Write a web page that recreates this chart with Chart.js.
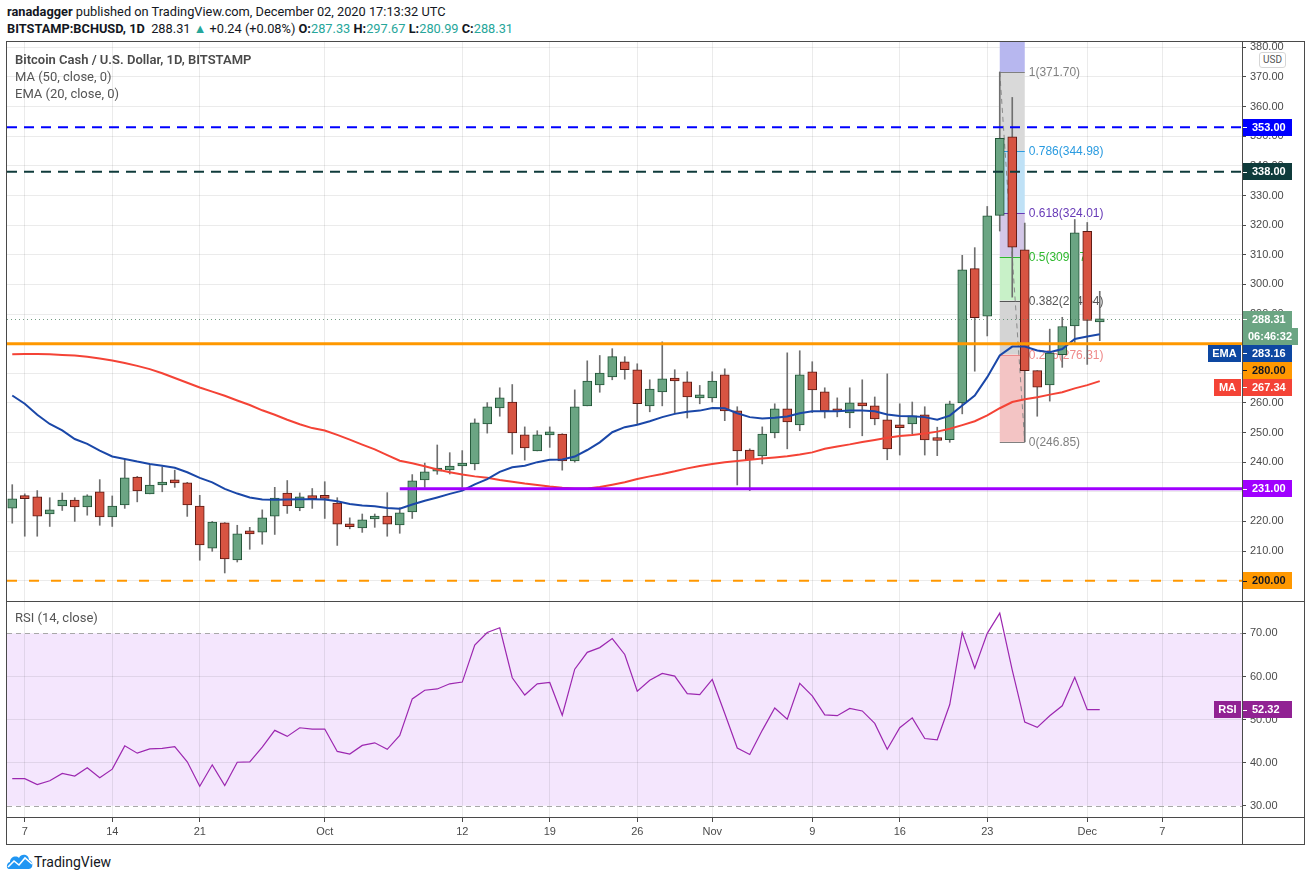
<!DOCTYPE html>
<html>
<head>
<meta charset="utf-8">
<title>BCHUSD 1D</title>
<script src="https://cdn.jsdelivr.net/npm/chart.js@4.4.1/dist/chart.umd.min.js"></script>
<style>
  body { margin: 0; background: #fff; width: 1311px; height: 881px; overflow: hidden; position: relative; font-family: Roboto, 'Liberation Sans', Arial, sans-serif; color: #131722; }
  .abs { position: absolute; white-space: nowrap; }
  .head { font-size: 12.8px; line-height: 16px; }
  .up { color: #26a69a; }
  .legend { font-size: 13px; line-height: 16px; color: #555; }
  .line { position: absolute; background: #4a4a4a; pointer-events: none; }
  #usd { left: 1259px; top: 52px; width: 25px; height: 14px; border: 1px solid #d6d6d6; border-radius: 3px; font-size: 10px; line-height: 14px; text-align: center; color: #555; background: #fff; }
</style>
</head>
<body>
<div class="abs head" style="left:7px;top:4px"><b>ranadagger</b> published on TradingView.com, December 02, 2020 17:13:32 UTC</div>
<div class="abs head" style="left:7px;top:21px"><b>BITSTAMP:BCHUSD, 1D</b>&nbsp; 288.31 <span class="up">&#9650;</span> +0.24 (+0.08%) <b>O:</b><span class="up">287.33</span> <b>H:</b><span class="up">297.67</span> <b>L:</b><span class="up">280.99</span> <b>C:</b><span class="up">288.31</span></div>

<div class="abs" style="left:0;top:41px"><canvas id="priceChart" width="1305" height="561"></canvas></div>
<div class="abs" style="left:0;top:602px"><canvas id="rsiChart" width="1305" height="243"></canvas></div>

<div class="abs legend" style="left:15px;top:52px;font-weight:600;color:#4a4a4a">Bitcoin Cash / U.S. Dollar, 1D, BITSTAMP</div>
<div class="abs legend" style="left:15px;top:69px">MA (50, close, 0)</div>
<div class="abs legend" style="left:15px;top:86px">EMA (20, close, 0)</div>
<div class="abs legend" style="left:15px;top:610px">RSI (14, close)</div>
<div id="usd" class="abs">USD</div>

<!-- pane frame -->
<div class="line" style="left:6px;top:41px;width:1299px;height:1px"></div>
<div class="line" style="left:6px;top:844px;width:1299px;height:1px"></div>
<div class="line" style="left:6px;top:41px;width:1px;height:804px"></div>
<div class="line" style="left:1304px;top:41px;width:1px;height:804px"></div>
<div class="line" style="left:6px;top:601px;width:1299px;height:1px"></div>
<div class="line" style="left:6px;top:817px;width:1299px;height:1px"></div>
<div class="line" style="left:1242px;top:41px;width:1px;height:804px"></div>

<svg class="abs" style="left:6px;top:852px" width="28" height="18" viewBox="0 0 28 18">
  <path d="M3 17 C0 17 0 11 4 10 C4 5 10 3 13 6 C15 1 23 2 23 8 C27 8 28 17 23 17 Z" fill="#2196f3"/>
  <polyline points="2,15 8,9 13,13 19,6 26,12" fill="none" stroke="#fff" stroke-width="1.6"/>
</svg>
<div class="abs" style="left:34px;top:853px;font-size:14px;line-height:18px;color:#131722">TradingView</div>

<script>
// daily candles from 2020-09-06 to 2020-12-02
const startDay = Date.UTC(2020, 8, 6);
const dayIndex = s => Math.round((Date.parse(s) - startDay) / 864e5);

const opens = [224.5,228.0,228.3,222.5,225.2,227.2,224.9,230.0,221.5,225.6,
  235.0,229.3,232.3,233.2,233.0,225.2,211.0,219.5,207.0,216.4,
  216.4,221.8,229.6,224.6,227.9,228.0,226.2,218.3,217.8,220.8,
  221.8,218.8,223.2,234.0,237.0,237.4,238.7,239.4,252.9,258.3,
  260.3,249.2,243.8,249.2,249.5,240.4,259.0,266.1,268.8,273.9,
  271.2,259.0,263.7,267.8,267.1,261.7,261.7,269.5,257.3,244.1,
  242.1,249.9,258.0,252.6,270.5,263.7,257.6,256.6,259.7,259.0,
  254.3,252.6,252.9,256.0,248.2,247.6,260.0,305.3,289.3,323.3,
  349.8,311.7,270.9,266.1,276.3,286.0,317.9,287.33];
const highs = [232.4,229.3,230.4,228.0,229.6,228.0,229.0,234.1,228.6,240.8,
  235.2,239.1,238.4,237.3,233.2,228.8,220.0,219.6,218.7,218.0,
  223.9,231.5,233.8,229.6,231.1,233.4,228.0,221.2,222.5,222.5,
  229.7,224.6,235.8,239.7,245.8,243.2,243.9,254.6,260.1,265.1,
  266.2,251.9,250.6,251.9,249.6,264.4,274.2,276.0,278.3,275.6,
  273.2,267.8,280.6,271.2,270.5,265.9,270.5,271.5,258.7,244.5,
  251.9,259.7,276.9,277.6,273.9,265.1,261.7,265.1,267.8,262.0,
  269.8,259.7,260.3,258.7,251.8,260.6,309.8,312.4,326.3,371.7,
  363.1,320.7,270.9,284.9,288.9,321.9,320.9,297.67];
const lows = [219.4,215.0,215.0,218.3,223.7,220.0,222.1,218.7,218.3,224.4,
  226.6,229.3,230.0,231.5,221.7,206.9,209.9,202.6,206.3,210.6,
  212.3,215.6,222.7,223.6,224.4,221.0,211.9,217.5,216.3,218.0,
  215.0,216.0,221.0,231.5,235.9,236.0,231.5,237.4,249.8,255.5,
  242.7,240.7,243.8,245.0,237.3,240.0,259.0,263.6,267.8,268.0,
  252.9,257.0,259.0,256.3,254.9,259.7,260.3,254.0,232.3,230.4,
  239.4,248.2,244.5,250.6,256.7,254.9,255.3,251.6,248.9,252.6,
  240.8,242.4,249.5,242.4,242.2,246.7,256.3,270.7,282.6,318.0,
  295.7,246.85,255.5,260.6,272.0,280.0,273.0,280.99];
const closes = [227.6,227.7,221.8,223.9,227.2,224.9,228.6,221.5,225.2,234.7,
  230.3,232.3,232.5,233.0,225.6,212.1,219.8,207.3,215.8,215.8,
  221.2,227.9,225.2,228.3,227.7,227.8,219.1,218.2,220.5,221.5,
  219.1,222.9,233.7,236.7,237.3,238.7,239.4,253.3,258.7,261.7,
  249.9,244.8,249.2,249.5,240.4,258.7,267.4,270.1,275.6,271.2,
  259.7,264.7,268.1,267.4,262.0,261.9,267.4,257.3,243.8,240.8,
  249.5,258.0,253.6,269.5,264.4,257.3,257.0,260.0,259.0,254.6,
  244.5,251.6,255.6,247.5,247.3,259.7,304.9,288.8,323.1,349.3,
  312.6,270.9,265.3,276.8,285.8,317.4,287.8,288.31];

const ma50 = [276.4,276.5,276.5,276.4,276.2,276.0,275.6,275.0,274.3,273.5,
  272.5,271.4,270.0,268.4,266.8,265.2,263.8,262.4,260.8,259.3,
  257.5,256.0,254.3,252.8,251.5,250.7,249.2,247.6,245.9,244.3,
  242.4,240.5,239.6,238.6,237.5,236.6,235.8,235.2,234.7,234.0,
  233.4,232.8,232.3,231.8,231.4,231.1,231.1,231.6,232.4,233.2,
  234.3,235.2,236.0,236.9,237.9,238.7,239.4,240.0,240.4,240.8,
  241.2,241.6,242.0,242.6,243.3,244.5,245.3,246.0,246.8,247.5,
  248.2,248.8,249.2,249.7,250.3,251.3,252.5,253.8,255.8,258.2,
  260.3,261.2,261.9,262.8,263.6,264.9,266.0,267.34];
const ema20 = [262.5,259.7,256.0,252.9,250.7,247.8,246.2,243.9,241.9,241.1,
  240.2,239.4,238.8,238.1,236.6,234.7,233.2,231.0,229.4,228.1,
  227.4,227.3,227.4,227.5,227.5,227.4,226.8,225.9,225.4,225.1,
  224.5,224.3,225.7,227.0,228.1,229.3,230.4,232.5,234.3,236.7,
  238.3,238.8,240.0,240.8,240.9,241.9,244.1,246.7,250.1,251.8,
  252.6,253.8,255.2,256.3,257.0,257.4,258.3,258.2,256.5,255.2,
  254.7,255.0,255.4,256.5,257.2,257.2,257.2,257.4,257.4,257.2,
  256.1,255.6,255.5,255.2,254.3,255.7,259.1,262.5,268.7,276.0,
  279.0,279.0,277.7,277.1,278.2,281.6,282.4,283.16];
const rsi14 = [36.3,36.3,34.9,35.8,37.5,36.9,38.8,36.5,38.5,43.9,
  42.2,43.2,43.3,43.7,40.2,34.5,39.5,34.7,40.1,40.2,
  43.6,47.5,46.1,48.1,47.8,47.8,42.6,42.0,44.0,44.6,
  43.1,46.3,54.8,56.8,57.1,58.3,58.7,67.3,70.2,71.3,
  59.7,55.7,58.3,58.6,51.0,61.7,65.6,66.7,68.8,65.1,
  56.6,59.1,60.7,60.1,56.0,55.8,59.3,51.4,43.4,41.9,
  47.5,52.7,50.1,58.4,55.5,51.1,50.9,52.6,52.0,49.1,
  43.1,48.1,50.4,45.6,45.3,53.5,70.2,61.9,70.0,74.7,
  61.5,49.4,48.2,50.9,53.2,59.8,52.3,52.32];

const tickDates = ['2020-09-07','2020-09-14','2020-09-21','2020-10-01','2020-10-12','2020-10-19',
  '2020-10-26','2020-11-01','2020-11-09','2020-11-16','2020-11-23','2020-12-01','2020-12-07'];
const tickLabels = ['7','14','21','Oct','12','19','26','Nov','9','16','23','Dec','7'];
const priceTicks = [200,210,220,230,240,250,260,270,280,290,300,310,320,330,340,350,360,370,380];
const rsiTicks = [30,40,50,60,70];
const rsiBand = [30, 70];

// horizontal levels drawn on the chart
const levelPrices = [353, 338, 280, 231, 200];
const levelFrom = [null, null, null, '2020-10-07', null];

// fibonacci retracement
const fibStart = '2020-11-24', fibEnd = '2020-11-26';
const fibRatios = ['1','0.786','0.618','0.5','0.382','0.236','0'];
const fibPrices = [371.70, 344.98, 324.01, 309.27, 294.54, 276.31, 246.85];
const countdown = '06:46:32';

// styles
const levelStyle = [
  { color: '#0000ff', width: 2, dash: [10, 7], text: '#fff' },
  { color: '#0f3b3b', width: 2, dash: [10, 7], text: '#fff' },
  { color: '#ff9800', width: 3, dash: [], text: '#131722' },
  { color: '#a000ff', width: 3, dash: [], text: '#fff' },
  { color: '#ff9800', width: 2, dash: [10, 12], text: '#131722' }
];
const fibZone = ['#b7b7ef', '#d9d9d9', '#bfe1f6', '#d3c7e7', '#c8f1c8', '#d4d4d4', '#f3c4c4'];
const fibColor = ['#808080', '#2a9be0', '#673ab7', '#2eb82e', '#555555', '#ef8a8a', '#808080'];
const upFill = '#6ba583', upLine = '#225437', downFill = '#d75442', downLine = '#5b1a13';
const gridColor = 'rgba(0,0,0,0.08)';

const xMin = -0.42, xMax = 98.38;
const last = closes.length - 1;

Chart.defaults.font.family = "'Liberation Sans', Arial, sans-serif";
Chart.defaults.font.size = 11;
Chart.defaults.color = '#4a4a4a';

function drawTag(ctx, x, y, w, text, bg, fg, dash) {
  ctx.fillStyle = bg;
  ctx.fillRect(x, Math.round(y - 8.5), w, 17);
  ctx.fillStyle = fg;
  ctx.font = "bold 11px 'Liberation Sans', Arial, sans-serif";
  ctx.textBaseline = 'middle';
  if (dash) {
    ctx.fillRect(x + 1, Math.round(y), 4, 1);
    ctx.textAlign = 'left';
    ctx.fillText(text, x + 10, y + 0.5);
  } else {
    ctx.textAlign = 'center';
    ctx.fillText(text, x + w / 2, y + 0.5);
  }
}

// keep the plot area flush with the canvas edges
const noPad = s => { s.paddingTop = 0; s.paddingBottom = 0; s.paddingLeft = 0; s.paddingRight = 0; };

const pricePanel = {
  id: 'pricePanel',
  beforeDatasetsDraw(chart) {
    const { ctx, chartArea: a, scales: { x, y } } = chart;
    ctx.save();
    ctx.beginPath();
    ctx.rect(a.left, a.top, a.right - a.left, a.bottom - a.top);
    ctx.clip();
    const x0 = x.getPixelForValue(dayIndex(fibStart));
    const x1 = x.getPixelForValue(dayIndex(fibEnd));
    ctx.fillStyle = fibZone[0];
    ctx.fillRect(x0, a.top, x1 - x0, y.getPixelForValue(fibPrices[0]) - a.top);
    for (let k = 0; k < fibPrices.length - 1; k++) {
      const ya = y.getPixelForValue(fibPrices[k]);
      const yb = y.getPixelForValue(fibPrices[k + 1]);
      ctx.fillStyle = fibZone[k + 1];
      ctx.fillRect(x0, ya, x1 - x0, yb - ya);
    }
    ctx.font = "12px 'Liberation Sans', Arial, sans-serif";
    ctx.textBaseline = 'middle';
    ctx.textAlign = 'left';
    fibPrices.forEach((p, k) => {
      const yy = Math.round(y.getPixelForValue(p)) + 0.5;
      ctx.strokeStyle = fibColor[k];
      ctx.lineWidth = 1;
      ctx.beginPath();
      ctx.moveTo(x0, yy);
      ctx.lineTo(x1, yy);
      ctx.stroke();
      ctx.fillStyle = fibColor[k];
      ctx.fillText(fibRatios[k] + '(' + p.toFixed(2) + ')', x1 + 4, yy);
    });
    ctx.setLineDash([5, 4]);
    ctx.strokeStyle = '#8a8a8a';
    ctx.beginPath();
    ctx.moveTo(x0, y.getPixelForValue(fibPrices[0]));
    ctx.lineTo(x1, y.getPixelForValue(fibPrices[fibPrices.length - 1]));
    ctx.stroke();
    ctx.restore();
  },
  afterDatasetsDraw(chart) {
    const { ctx, chartArea: a, scales: { x, y } } = chart;
    ctx.save();
    // current price dotted line
    const yc = Math.round(y.getPixelForValue(closes[last])) + 0.5;
    ctx.strokeStyle = 'rgba(80,130,100,0.8)';
    ctx.lineWidth = 1;
    ctx.setLineDash([1, 3]);
    ctx.beginPath();
    ctx.moveTo(a.left, yc);
    ctx.lineTo(a.right, yc);
    ctx.stroke();
    levelPrices.forEach((p, k) => {
      const s = levelStyle[k];
      const yy = y.getPixelForValue(p);
      const xs = levelFrom[k] ? x.getPixelForValue(dayIndex(levelFrom[k])) : a.left;
      ctx.strokeStyle = s.color;
      ctx.lineWidth = s.width;
      ctx.setLineDash(s.dash);
      ctx.beginPath();
      ctx.moveTo(xs, yy);
      ctx.lineTo(a.right, yy);
      ctx.stroke();
    });
    ctx.restore();
  },
  afterDraw(chart) {
    const { ctx, chartArea: a, scales: { y } } = chart;
    const tags = [
      { v: levelPrices[0], t: levelPrices[0].toFixed(2), bg: levelStyle[0].color, fg: levelStyle[0].text },
      { v: levelPrices[1], t: levelPrices[1].toFixed(2), bg: levelStyle[1].color, fg: levelStyle[1].text },
      { v: closes[last], t: closes[last].toFixed(2), bg: upFill, fg: '#fff' },
      { v: closes[last], t: countdown, bg: upFill, fg: '#fff', w: 56 },
      { v: ema20[last], t: ema20[last].toFixed(2), bg: '#0d47a1', fg: '#fff', name: 'EMA', nw: 33 },
      { v: levelPrices[2], t: levelPrices[2].toFixed(2), bg: levelStyle[2].color, fg: levelStyle[2].text },
      { v: ma50[last], t: ma50[last].toFixed(2), bg: '#f44336', fg: '#fff', name: 'MA', nw: 27 },
      { v: levelPrices[3], t: levelPrices[3].toFixed(2), bg: levelStyle[3].color, fg: levelStyle[3].text },
      { v: levelPrices[4], t: levelPrices[4].toFixed(2), bg: levelStyle[4].color, fg: levelStyle[4].text }
    ];
    ctx.save();
    let prev = -1e9;
    tags.forEach(tg => {
      let yy = Math.max(y.getPixelForValue(tg.v), prev + 17);
      prev = yy;
      drawTag(ctx, a.right, yy, tg.w || 50, tg.t, tg.bg, tg.fg, !tg.w);
      if (tg.name) drawTag(ctx, a.right - tg.nw - 1, yy, tg.nw, tg.name, tg.bg, tg.fg, false);
    });
    ctx.restore();
  }
};

const rsiPanel = {
  id: 'rsiPanel',
  beforeDraw(chart) {
    const { ctx, chartArea: a, scales: { y } } = chart;
    const yt = y.getPixelForValue(rsiBand[1]), yb = y.getPixelForValue(rsiBand[0]);
    ctx.save();
    ctx.fillStyle = '#f4e6fd';
    ctx.fillRect(a.left, yt, a.right - a.left, yb - yt);
    ctx.restore();
  },
  beforeDatasetsDraw(chart) {
    const { ctx, chartArea: a, scales: { y } } = chart;
    ctx.save();
    ctx.strokeStyle = '#a8a8a8';
    ctx.lineWidth = 1;
    ctx.setLineDash([5, 4]);
    rsiBand.forEach(v => {
      const yy = Math.round(y.getPixelForValue(v)) + 0.5;
      ctx.beginPath();
      ctx.moveTo(a.left, yy);
      ctx.lineTo(a.right, yy);
      ctx.stroke();
    });
    ctx.restore();
  },
  afterDraw(chart) {
    const { ctx, chartArea: a, scales: { y } } = chart;
    const yy = y.getPixelForValue(rsi14[last]);
    ctx.save();
    drawTag(ctx, a.right, yy, 50, rsi14[last].toFixed(2), '#912293', '#fff', true);
    drawTag(ctx, a.right - 28, yy, 27, 'RSI', '#912293', '#fff', false);
    ctx.restore();
  }
};

const xScale = (showLabels) => ({
  type: 'linear',
  min: xMin,
  max: xMax,
  offset: false,
  bounds: 'data',
  afterBuildTicks: s => { s.ticks = tickDates.map(d => ({ value: dayIndex(d) })); },
  ticks: { display: showLabels, autoSkip: false, maxRotation: 0, padding: 3, color: '#4a4a4a',
           callback: (v, i) => tickLabels[i] },
  grid: { color: gridColor, offset: false, drawTicks: showLabels, tickLength: 4, tickColor: '#4a4a4a' },
  border: { display: false },
  afterFit: s => { s.height = showLabels ? 27 : 0; noPad(s); }
});

new Chart(document.getElementById('priceChart'), {
  type: 'bar',
  data: {
    datasets: [
      {
        type: 'line', label: 'EMA (20, close, 0)', order: 0,
        data: ema20.map((v, i) => ({ x: i, y: v })),
        borderColor: '#1a47a8', borderWidth: 2, pointRadius: 0, tension: 0
      },
      {
        type: 'line', label: 'MA (50, close, 0)', order: 1,
        data: ma50.map((v, i) => ({ x: i, y: v })),
        borderColor: '#f44336', borderWidth: 2, pointRadius: 0, tension: 0
      },
      {
        label: 'body', order: 2, grouped: false,
        data: opens.map((o, i) => ({ x: i, y: [o, closes[i]] })),
        backgroundColor: c => closes[c.dataIndex] >= opens[c.dataIndex] ? upFill : downFill,
        borderColor: c => closes[c.dataIndex] >= opens[c.dataIndex] ? upLine : downLine,
        borderWidth: 1, borderSkipped: false, barThickness: 9, minBarLength: 3
      },
      {
        label: 'wick', order: 3, grouped: false,
        data: lows.map((l, i) => ({ x: i, y: [l, highs[i]] })),
        backgroundColor: '#6f6f6f', barThickness: 1
      }
    ]
  },
  options: {
    responsive: false,
    animation: false,
    layout: { padding: { left: 7, right: 0, top: 0, bottom: 0 } },
    plugins: { legend: { display: false }, tooltip: { enabled: false } },
    scales: {
      x: xScale(false),
      y: {
        position: 'right',
        min: 192.8,
        max: 382.15,
        bounds: 'data',
        afterBuildTicks: s => { s.ticks = priceTicks.map(v => ({ value: v })); },
        ticks: { callback: v => v.toFixed(2), padding: 4, color: '#4a4a4a' },
        grid: { color: gridColor, tickLength: 4, tickColor: '#4a4a4a' },
        border: { display: false },
        afterFit: s => { s.width = 63; noPad(s); }
      }
    }
  },
  plugins: [pricePanel]
});

new Chart(document.getElementById('rsiChart'), {
  type: 'line',
  data: {
    datasets: [{
      label: 'RSI (14, close)',
      data: rsi14.map((v, i) => ({ x: i, y: v })),
      borderColor: '#9c27b0', borderWidth: 1.2, pointRadius: 0, tension: 0
    }]
  },
  options: {
    responsive: false,
    animation: false,
    layout: { padding: { left: 7, right: 0, top: 0, bottom: 0 } },
    plugins: { legend: { display: false }, tooltip: { enabled: false } },
    scales: {
      x: xScale(true),
      y: {
        position: 'right',
        min: 27.16,
        max: 77.28,
        bounds: 'data',
        afterBuildTicks: s => { s.ticks = rsiTicks.map(v => ({ value: v })); },
        ticks: { callback: v => v.toFixed(2), padding: 4, color: '#4a4a4a' },
        grid: {
          color: c => (c.tick && rsiBand.includes(c.tick.value)) ? 'rgba(0,0,0,0)' : gridColor,
          tickLength: 4, tickColor: '#4a4a4a'
        },
        border: { display: false },
        afterFit: s => { s.width = 63; noPad(s); }
      }
    }
  },
  plugins: [rsiPanel]
});
</script>
</body>
</html>
